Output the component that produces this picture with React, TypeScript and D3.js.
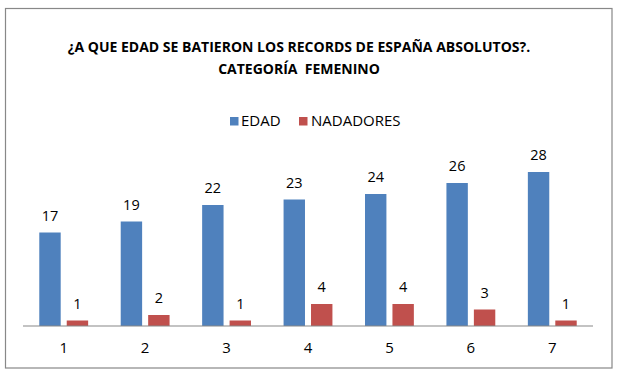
import React from "react";
import * as d3 from "d3";

const categories = ["1", "2", "3", "4", "5", "6", "7"];
const seriesNames = ["EDAD", "NADADORES"];
const edad = [17, 19, 22, 23, 24, 26, 28];
const nadadores = [1, 2, 1, 4, 4, 3, 1];
const titleLines = ["¿A QUE EDAD SE BATIERON LOS RECORDS DE ESPAÑA ABSOLUTOS?.", "CATEGORÍA  FEMENINO"];
const colors = ["#4F81BD", "#C0504D"];

const W = 620;
const H = 375;
const font = "'Open Sans', sans-serif";

export default function App() {
  const values = [edad, nadadores];
  const x0 = d3.scaleBand<string>().domain(categories).range([23, 593]).paddingInner(0.4).paddingOuter(0.2);
  const x1 = d3.scaleBand<string>().domain(seriesNames).range([0, x0.bandwidth()]).paddingInner(0.22).paddingOuter(0);
  const y = d3.scaleLinear().domain([0, 30]).range([326, 161]);

  return (
    <svg width={W} height={H} style={{ position: "absolute", left: 0, top: 0 }}>
      <rect x={0} y={0} width={W} height={H} fill="#fff" />
      <rect x={5.5} y={8.5} width={606.5} height={359.5} fill="#fff" stroke="#888" strokeWidth={1.2} />
      {titleLines.map((t, i) => (
        <text key={i} x={299} y={52 + i * 22} textAnchor="middle" fontFamily={font} fontWeight="bold" fontSize={14}
          fill="#000" style={{ whiteSpace: "pre" }}>
          {t}
        </text>
      ))}
      {/* legend */}
      <g fontFamily={font} fontSize={15} fill="#000">
        <rect x={230} y={117} width={8.5} height={8.5} fill={colors[0]} />
        <text x={241} y={126}>{seriesNames[0]}</text>
        <rect x={299} y={117} width={8.5} height={8.5} fill={colors[1]} />
        <text x={311} y={126}>{seriesNames[1]}</text>
      </g>
      {categories.map((c, ci) => (
        <g key={c} transform={`translate(${x0(c)},0)`}>
          {seriesNames.map((s, si) => {
            const v = values[si][ci];
            const bx = x1(s)!;
            return (
              <g key={s}>
                <rect x={bx} y={y(v)} width={x1.bandwidth()} height={y(0) - y(v)} fill={colors[si]} />
                <text x={bx + x1.bandwidth() / 2} y={y(v) - 12} textAnchor="middle" fontFamily={font} fontSize={14.5} fill="#000">
                  {v}
                </text>
              </g>
            );
          })}
        </g>
      ))}
      <line x1={23} x2={593} y1={326} y2={326} stroke="#888" strokeWidth={1.2} />
      {categories.map((c) => (
        <text key={c} x={x0(c)! + x0.bandwidth() / 2} y={353} textAnchor="middle" fontFamily={font} fontSize={15} fill="#000">
          {c}
        </text>
      ))}
    </svg>
  );
}
